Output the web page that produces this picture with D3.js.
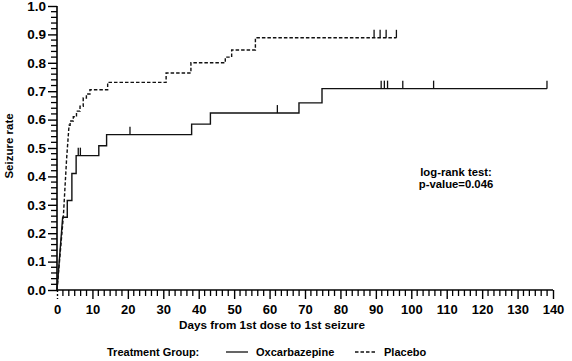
<!DOCTYPE html>
<html>
<head>
<meta charset="utf-8">
<script src="https://cdn.jsdelivr.net/npm/d3@7"></script>
<style>
  body { margin: 0; background: #fff; }
  svg text { font-family: "Liberation Sans", Arial, Helvetica, sans-serif; font-weight: 700; fill: #000; }
</style>
</head>
<body>
<svg id="chart" width="572" height="361"></svg>
<script>
// Kaplan-Meier style curves: [day, seizure rate]
const oxcarbazepineRise = [[0, 0], [1.6, 0.256]];
const oxcarbazepineSteps = [
  [1.6, 0.256], [2.9, 0.315], [4.2, 0.41], [5.4, 0.473], [11.8, 0.508],
  [14.0, 0.547], [38.0, 0.584], [43.3, 0.623], [68.3, 0.659], [74.8, 0.709],
  [138.3, 0.709]
];
const oxcarbazepineCensored = [6.0, 6.6, 20.6, 62.2, 91.5, 92.4, 93.3, 97.6, 106.3, 138.3];

const placeboRise = [[0, 0], [1.8, 0.26], [2.7, 0.46], [3.4, 0.58]];
const placeboSteps = [
  [3.4, 0.58], [3.7, 0.595], [4.6, 0.61], [5.5, 0.63], [6.5, 0.647],
  [7.4, 0.676], [8.3, 0.69], [9.3, 0.705], [14.3, 0.731], [30.8, 0.764],
  [37.8, 0.80], [47.5, 0.82], [49.3, 0.845], [56.0, 0.888], [95.8, 0.888]
];
const placeboCensored = [89.5, 91.2, 92.9, 95.8];

const xTicks = d3.range(0, 141, 10);
const yTicks = d3.range(0, 1.01, 0.1);
const legendItems = [
  { label: "Oxcarbazepine", dash: null },
  { label: "Placebo", dash: "3.5,2" }
];
const testLines = ["log-rank test:", "p-value=0.046"];

const svg = d3.select("#chart");

const x = d3.scaleLinear().domain([0, 140]).range([57, 553]);
const y = d3.scaleLinear().domain([0, 1]).range([290, 6]);

// value of a step curve at a given day
const stepValue = (steps, day) => {
  let v = steps[0][1];
  steps.forEach((s) => { if (s[0] <= day) v = s[1]; });
  return v;
};

// ---- axes
const appendAxes = () => {
  const xMinor = d3.range(0, 140.01, 10 / 6).filter((d) => Math.abs(d / 10 - Math.round(d / 10)) > 1e-6);
  const yMinor = d3.range(0, 1.001, 0.02).filter((d) => Math.abs(d * 10 - Math.round(d * 10)) > 1e-6);

  const xAxis = svg.append("g")
      .attr("transform", `translate(0,${y(0)})`)
      .call(d3.axisBottom(x).tickValues(xTicks).tickSize(9).tickFormat(d3.format("d")));
  xAxis.select(".domain").attr("stroke-width", 1.6).attr("d", `M${x(0)},0H${x(140)}`);
  xAxis.selectAll(".tick line").attr("stroke-width", 1.4)
      .attr("stroke-dasharray", (d) => d === 0 ? "2,2" : null);
  xAxis.selectAll(".tick text")
      .attr("y", 15)
      .attr("dy", "0.7em")
      .style("font-size", "13px");

  svg.append("g")
      .attr("transform", `translate(0,${y(0)})`)
      .selectAll("line")
      .data(xMinor)
      .enter()
      .append("line")
        .attr("x1", (d) => x(d)).attr("x2", (d) => x(d))
        .attr("y1", 0).attr("y2", 6)
        .attr("stroke", "#000")
        .attr("stroke-width", 1.3);

  const yAxis = svg.append("g")
      .attr("transform", `translate(${x(0)},0)`)
      .call(d3.axisLeft(y).tickValues(yTicks).tickSize(9).tickFormat(d3.format(".1f")));
  yAxis.select(".domain").attr("stroke-width", 1.6).attr("d", `M0,${y(0)}V${y(1)}`);
  yAxis.selectAll(".tick line").attr("stroke-width", 1.4);
  yAxis.selectAll(".tick text")
      .attr("x", -11)
      .style("font-size", "13.5px");

  svg.append("g")
      .attr("transform", `translate(${x(0)},0)`)
      .selectAll("line")
      .data(yMinor)
      .enter()
      .append("line")
        .attr("x1", -6).attr("x2", 0)
        .attr("y1", (d) => y(d)).attr("y2", (d) => y(d))
        .attr("stroke", "#000")
        .attr("stroke-width", 1.3);

  svg.selectAll(".tick text")
      .style("font-family", '"Liberation Sans", Arial, sans-serif')
      .style("font-weight", 700)
      .attr("fill", "#000");

  svg.append("text")
      .attr("transform", "translate(13,146) rotate(-90)")
      .attr("text-anchor", "middle")
      .style("font-size", "11.5px")
      .text("Seizure rate");

  svg.append("text")
      .attr("x", 272)
      .attr("y", 329)
      .attr("text-anchor", "middle")
      .style("font-size", "11.7px")
      .text("Days from 1st dose to 1st seizure");
};

// ---- curves
const appendCurve = (rise, steps, censored, dash) => {
  const g = svg.append("g");
  const riseLine = d3.line().x((d) => x(d[0])).y((d) => y(d[1]));
  const stepLine = d3.line().x((d) => x(d[0])).y((d) => y(d[1])).curve(d3.curveStepAfter);

  g.append("path")
      .attr("d", riseLine(rise) + stepLine(steps).replace(/^M/, "L"))
      .attr("fill", "none")
      .attr("stroke", "#111")
      .attr("stroke-width", 1.4)
      .attr("stroke-dasharray", dash);

  g.selectAll("line.censor")
      .data(censored)
      .enter()
      .append("line")
        .attr("class", "censor")
        .attr("x1", (d) => x(d)).attr("x2", (d) => x(d))
        .attr("y1", (d) => y(stepValue(steps, d)))
        .attr("y2", (d) => y(stepValue(steps, d)) - 8)
        .attr("stroke", "#111")
        .attr("stroke-width", 1.3);
};

// ---- legend and test text
const appendLegend = () => {
  svg.append("text")
      .attr("x", 107)
      .attr("y", 356)
      .style("font-size", "11px")
      .text("Treatment Group:");

  const starts = [226, 355];
  const items = svg.selectAll("g.legend")
      .data(legendItems)
      .enter()
      .append("g")
        .attr("class", "legend")
        .attr("transform", (d, i) => `translate(${starts[i]},352)`);

  items.append("line")
      .attr("x1", 0).attr("x2", 22)
      .attr("stroke", "#111")
      .attr("stroke-width", 1.3)
      .attr("stroke-dasharray", (d) => d.dash);

  items.append("text")
      .attr("x", (d, i) => i === 0 ? 30 : 29)
      .attr("y", 4)
      .style("font-size", "11px")
      .text((d) => d.label);

  svg.selectAll("text.test")
      .data(testLines)
      .enter()
      .append("text")
        .attr("class", "test")
        .attr("x", 456)
        .attr("y", (d, i) => 175.5 + i * 12.5)
        .attr("text-anchor", "middle")
        .style("font-size", "11.3px")
        .text((d) => d);
};

appendAxes();
appendCurve(oxcarbazepineRise, oxcarbazepineSteps, oxcarbazepineCensored, null);
appendCurve(placeboRise, placeboSteps, placeboCensored, "3.5,2");
appendLegend();
</script>
</body>
</html>
